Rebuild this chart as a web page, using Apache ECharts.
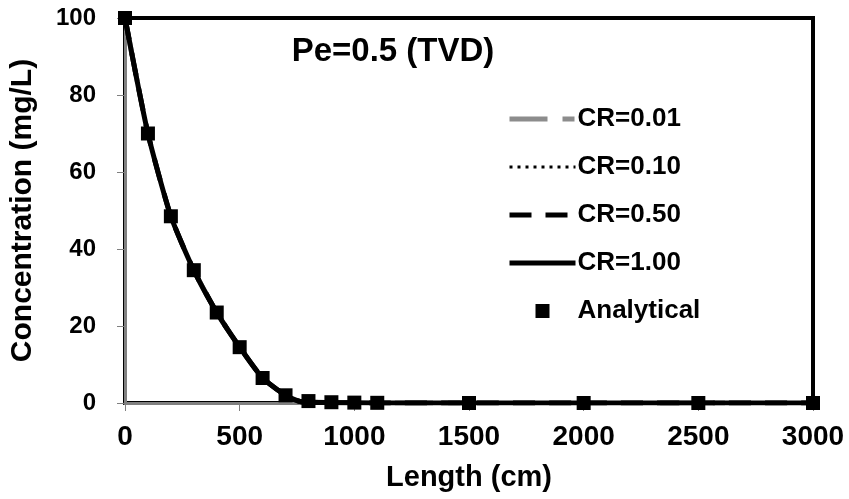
<!DOCTYPE html>
<html>
<head>
<meta charset="utf-8">
<script src="https://cdn.jsdelivr.net/npm/echarts@6/dist/echarts.min.js"></script>
<style>
  html, body { margin: 0; padding: 0; background: #fff; }
  #chart { width: 849px; height: 499px; }
</style>
</head>
<body>
<div id="chart"></div>
<script>
// x 位置（cm）
var lengthCm = [0, 100, 200, 300, 400, 500, 600, 700, 800, 900, 1000, 1100, 1500, 2000, 2500, 3000];
// 解析解（mg/L）
var analytical = [100, 70, 48.5, 34.5, 23.5, 14.5, 6.5, 2, 0.5, 0.2, 0.1, 0.05, 0, 0, 0, 0];
// 数值解曲线（四条几乎重合）
var curveX = [0, 100, 200, 300, 400, 500, 600, 700, 770, 900, 1100, 1500, 2000, 2500, 3000];
var curveY = [100, 70, 48.5, 34.5, 23.5, 14.5, 6.5, 2, 0.3, 0.1, 0, 0, 0, 0, 0];
var seriesNames = ['CR=0.01', 'CR=0.10', 'CR=0.50', 'CR=1.00'];

function pairs(xs, ys) {
    var out = [];
    for (var i = 0; i < xs.length; i++) {
        out.push([xs[i], ys[i]]);
    }
    return out;
}

var font = 'Liberation Sans, Arial, sans-serif';

var lineStyles = [
    { color: '#8c8c8c', width: 5, type: [38, 15, 12, 200] },
    { color: '#000', width: 3, type: [3, 5] },
    { color: '#000', width: 5, type: [22, 14] },
    { color: '#000', width: 5, type: 'solid' }
];

var series = [];
var legendData = [];
for (var k = 0; k < seriesNames.length; k++) {
    series.push({
        name: seriesNames[k],
        type: 'line',
        symbol: 'none',
        smooth: 0.2,
        data: pairs(curveX, curveY),
        lineStyle: lineStyles[k],
        itemStyle: { color: lineStyles[k].color },
        z: 2 + k
    });
    // 图例里只画线，不画圆点
    legendData.push({ name: seriesNames[k], itemStyle: { opacity: 0 } });
}
series.push({
    name: 'Analytical',
    type: 'scatter',
    symbol: 'rect',
    symbolSize: 14,
    itemStyle: { color: '#000', opacity: 1 },
    data: pairs(lengthCm, analytical),
    z: 10
});
legendData.push({ name: 'Analytical', icon: 'path://M0,0H10V10H0Z', itemStyle: { opacity: 1 } });

var tickFmt = function (v) { return String(v); };

var chart = echarts.init(document.getElementById('chart'));
chart.setOption({
    animation: false,
    backgroundColor: '#fff',
    title: {
        text: 'Pe=0.5 (TVD)',
        left: 388,
        top: 30,
        textAlign: 'center',
        textStyle: { fontFamily: font, fontSize: 33, fontWeight: 'bold', color: '#000' }
    },
    legend: {
        orient: 'vertical',
        left: 502,
        top: 101,
        itemWidth: 66,
        itemHeight: 14,
        itemGap: 22,
        lineStyle: { width: 'inherit' },
        textStyle: { fontFamily: font, fontSize: 26, fontWeight: 'bold', color: '#000', padding: [0, 0, 0, -3] },
        data: legendData
    },
    grid: {
        left: 125,
        right: 36,
        top: 18,
        bottom: 96,
        show: true,
        borderColor: '#000',
        borderWidth: 4,
        backgroundColor: '#fff'
    },
    xAxis: {
        type: 'value',
        min: 0,
        max: 3000,
        interval: 500,
        name: 'Length (cm)',
        nameLocation: 'middle',
        nameGap: 60,
        nameTextStyle: { fontFamily: font, fontSize: 29, fontWeight: 'bold', color: '#000' },
        axisLine: { show: true, lineStyle: { color: '#808080', width: 3 } },
        axisTick: { show: true, length: 8, lineStyle: { color: '#808080', width: 1 } },
        axisLabel: { fontFamily: font, fontSize: 28, fontWeight: 'bold', color: '#000', margin: 20, formatter: tickFmt },
        splitLine: { show: false }
    },
    yAxis: {
        type: 'value',
        min: 0,
        max: 100,
        interval: 20,
        name: 'Concentration (mg/L)',
        nameLocation: 'middle',
        nameGap: 87,
        nameTextStyle: { fontFamily: font, fontSize: 30, fontWeight: 'bold', color: '#000' },
        axisLine: { show: true, lineStyle: { color: '#808080', width: 3 } },
        axisTick: { show: true, length: 8, lineStyle: { color: '#808080', width: 1 } },
        axisLabel: { fontFamily: font, fontSize: 24, fontWeight: 'bold', color: '#000', margin: 29, formatter: tickFmt },
        splitLine: { show: false }
    },
    series: series
});
</script>
</body>
</html>
